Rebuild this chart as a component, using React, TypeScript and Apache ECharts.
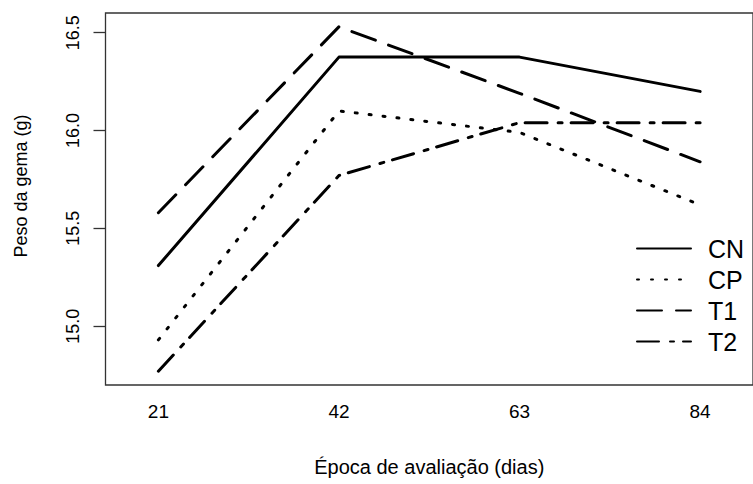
import React, { useEffect, useRef } from "react";
import * as echarts from "echarts";

const days = [21, 42, 63, 84];
const seriesNames = ["CN", "CP", "T1", "T2"];
const cnValues = [15.31, 16.375, 16.375, 16.2];
const cpValues = [14.93, 16.1, 15.99, 15.62];
const t1Values = [15.58, 16.53, 16.19, 15.84];
const t2Values = [14.77, 15.77, 16.04, 16.04];
const yTicks = [15.0, 15.5, 16.0, 16.5];
const xTitle = "Época de avaliação (dias)";
const yTitle = "Peso da gema (g)";

const FONT = "'Liberation Sans', Arial, sans-serif";

export default function App() {
  const ref = useRef<HTMLDivElement>(null);
  useEffect(() => {
    document.body.style.margin = "0";
    const chart = echarts.init(ref.current!, null, { renderer: "svg" });
    const all = [...cnValues, ...cpValues, ...t1Values, ...t2Values];
    const lo = Math.min(...all);
    const hi = Math.max(...all);
    const ext = (hi - lo) * 0.04;
    const valuesList = [cnValues, cpValues, t1Values, t2Values];
    const dashes: any[] = ["solid", [2, 12], [25, 14], [22, 11, 4, 9]];
    const series = seriesNames.map((name, i) => ({
      name,
      type: "line",
      data: days.map((d, j) => [d, valuesList[i][j]]),
      symbol: "none",
      showSymbol: false,
      lineStyle: { color: "#000", width: 3, type: dashes[i], cap: "round", join: "round" },
      itemStyle: { color: "#000" },
    }));
    chart.setOption({
      animation: false,
      backgroundColor: "#fff",
      textStyle: { fontFamily: FONT },
      grid: {
        left: 105.5,
        top: 13,
        width: 661,
        height: 372,
        show: true,
        borderColor: "#333",
        borderWidth: 1.3,
        containLabel: false,
      },
      legend: {
        orient: "vertical",
        left: 631,
        top: 231,
        itemWidth: 54,
        itemHeight: 25,
        itemGap: 6,
        itemStyle: { opacity: 0 },
        textStyle: { fontSize: 25, color: "#000", fontFamily: FONT, padding: [0, 0, 0, 12], lineHeight: 25 },
        data: seriesNames,
      },
      xAxis: {
        type: "value",
        min: 14.85,
        max: 90.15,
        axisLine: { show: false },
        axisTick: { show: false },
        splitLine: { show: false },
        axisLabel: {
          customValues: days,
          fontSize: 19,
          color: "#000",
          margin: 17,
          fontFamily: FONT,
        },
        name: xTitle,
        nameLocation: "middle",
        nameGap: 72,
        nameTextStyle: { fontSize: 20, color: "#000", fontFamily: FONT },
      },
      yAxis: {
        type: "value",
        min: lo - ext,
        max: hi + ext,
        axisLine: { show: false },
        axisTick: { show: true, customValues: yTicks, length: 12, lineStyle: { color: "#333", width: 1.3 } },
        splitLine: { show: false },
        axisLabel: {
          customValues: yTicks,
          formatter: (v: number) => v.toFixed(1),
          rotate: 90,
          fontSize: 18,
          color: "#000",
          margin: 24,
          fontFamily: FONT,
        },
        name: yTitle,
        nameLocation: "middle",
        nameGap: 76,
        nameTextStyle: { fontSize: 18, color: "#000", fontFamily: FONT, padding: [0, 0, 0, 26] },
      },
      series,
    });
    return () => chart.dispose();
  }, []);
  return <div ref={ref} style={{ position: "fixed", left: 0, top: 0, width: 753, height: 484 }} />;
}
